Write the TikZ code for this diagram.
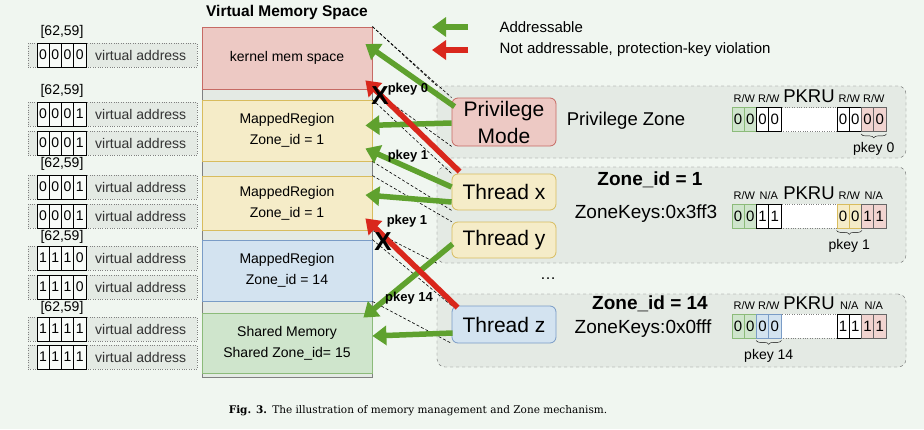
\documentclass[tikz,border=0pt]{standalone}
\usepackage{fontspec}
\setmainfont{Liberation Sans}
\newfontfamily\capfont{DejaVu Serif}
\usetikzlibrary{arrows.meta,calc,decorations.pathreplacing}
\definecolor{bgc}{HTML}{F0F6F0}
\definecolor{boxgray}{HTML}{E4EAE4}
\definecolor{pinkf}{HTML}{EDC9C4}
\definecolor{pinkd}{HTML}{C66A64}
\definecolor{yelf}{HTML}{F5ECC8}
\definecolor{yeld}{HTML}{D8BC5E}
\definecolor{bluef}{HTML}{D3E3F0}
\definecolor{blued}{HTML}{7A9CC6}
\definecolor{grnf}{HTML}{CFE5CC}
\definecolor{grnd}{HTML}{8CBB7A}
\definecolor{okgreen}{HTML}{5FA12E}
\definecolor{badred}{HTML}{D9271C}
\newcommand{\fs}[1]{\fontsize{#1}{#1}\selectfont}

\begin{document}
\begin{tikzpicture}[x=1pt,y=-1pt,
  addrbox/.style={draw=gray,dotted,fill=boxgray,minimum width=169pt,minimum height=24pt,inner sep=0pt},
  bitcell/.style={draw=black,fill=white!55!bgc,line width=0.8pt,minimum width=12.25pt,minimum height=24pt,inner sep=0pt,font=\fs{14}},
  memreg/.style={draw,line width=0.8pt,minimum width=170pt,inner sep=0pt,align=center,font=\fontsize{14}{21}\selectfont},
  zonebox/.style={draw=gray!80!black,dashed,rounded corners=8pt,fill=boxgray,minimum width=469pt,inner sep=0pt},
  thr/.style={draw,line width=0.8pt,rounded corners=6pt,minimum width=104pt,inner sep=0pt,align=center,font=\fontsize{21}{27}\selectfont},
  pcell/.style={line width=0.8pt,minimum width=12.25pt,minimum height=24pt,inner sep=0pt,font=\fs{15}},
  cg/.style={draw=grnd,fill=grnf},
  cw/.style={draw=black,fill=white},
  cp/.style={draw=gray!80!black,fill=pinkf!80!white},
  cy/.style={draw=yeld,fill=yelf},
  cb/.style={draw=blued,fill=bluef},
  gapbox/.style={draw=gray,dotted,fill=white,minimum width=56pt,minimum height=24pt,inner sep=0pt},
  conn/.style={dash pattern=on 3pt off 2pt,line width=0.6pt},
  okarrow/.style={draw=okgreen,line width=5.5pt,-{Triangle[length=14pt,width=19pt]}},
  badarrow/.style={draw=badred,line width=5.5pt,-{Triangle[length=14pt,width=19pt]}},
  klabel/.style={font=\bfseries\fs{13}},
  rwlabel/.style={anchor=base,inner sep=0pt,font=\fs{11}}]

\fill[bgc] (0,0) rectangle (924,429);
\useasboundingbox (0,0) rectangle (924,429);

% virtual addresses
\foreach \r/\yy/\bits in {1/55/{0,0,0,0},2/114/{0,0,0,1},3/143/{0,0,0,1},4/187/{0,0,0,1},5/216/{0,0,0,1},6/258/{1,1,1,0},7/287/{1,1,1,0},8/329/{1,1,1,1},9/357/{1,1,1,1}}{
  \node[addrbox] (addr\r) at (112.5,\yy) {};
  \node[anchor=west,inner sep=0pt,text=black!80,font=\fs{14}] (va\r) at (95,\yy) {virtual address};
  \foreach \b [count=\i] in \bits
    \node[bitcell] (bit\r-\i) at ({37+12.25*(\i-0.5)},\yy) {\b};
}
\foreach \r/\yy in {1/32,2/91,4/164,6/237,8/308}
  \node[font=\fs{14}] (rng\r) at (62,\yy) {[62,59]};

% virtual memory space
\node[font=\bfseries\fs{15.5}] (vmst) at (287,12) {Virtual Memory Space};
\node[draw=gray,fill=boxgray,minimum width=170pt,minimum height=350pt,inner sep=0pt] (vms) at (287,202) {};
\node[memreg,draw=pinkd,fill=pinkf,minimum height=62pt] (kern) at (287,58) {kernel mem space};
\node[memreg,draw=yeld,fill=yelf,minimum height=61pt] (r1a) at (287,130.5) {MappedRegion\\Zone\_id = 1};
\node[memreg,draw=yeld,fill=yelf,minimum height=54pt] (r1b) at (287,203) {MappedRegion\\Zone\_id = 1};
\node[memreg,draw=blued,fill=bluef,minimum height=61pt] (r14) at (287,270.5) {MappedRegion\\Zone\_id = 14};
\node[memreg,draw=grnd,fill=grnf,minimum height=60pt] (shm) at (287,343) {Shared Memory\\Shared Zone\_id= 15};

% zones
\node[zonebox,minimum height=72pt] (pzone) at (671.5,122) {};
\node[zonebox,minimum height=96pt] (zone1) at (671.5,215) {};
\node[zonebox,minimum height=73pt] (zone14) at (671.5,330.5) {};

\node[thr,draw=pinkd,fill=pinkf,minimum height=48pt] (priv) at (504,122) {Privilege\\Mode};
\node[thr,draw=yeld,fill=yelf,minimum height=36pt] (thx) at (504,192) {Thread x};
\node[thr,draw=yeld,fill=yelf,minimum height=36pt] (thy) at (504,240) {Thread y};
\node[thr,draw=blued,fill=bluef,minimum height=37pt] (thz) at (504,324.5) {Thread z};

\node[font=\fs{18.5}] (pzt) at (626,121) {Privilege Zone};
\node[font=\bfseries\fs{19}] (z1t) at (650,180) {Zone\_id = 1};
\node[font=\fs{19}] (z1k) at (646,214) {ZoneKeys:0x3ff3};
\node[font=\bfseries\fs{19}] (z14t) at (650,304) {Zone\_id = 14};
\node[font=\fs{19}] (z14k) at (643,329) {ZoneKeys:0x0fff};
\node[font=\fs{16}] (dots) at (548,279) {\dots};

% PKRU registers
\foreach \rn/\ry/\cells in {p/119.5/{cg/0,cg/0,cw/0,cw/0,cw/0,cw/0,cp/0,cp/0},a/216/{cg/0,cg/0,cw/1,cw/1,cy/0,cy/0,cp/1,cp/1},b/326/{cg/0,cg/0,cb/0,cb/0,cw/1,cw/1,cp/1,cp/1}}{
  \node[gapbox] (\rn-gap) at (809,\ry) {};
  \foreach \st/\v [count=\i] in \cells {
    \pgfmathsetmacro\cx{\i<5 ? 732+12.25*(\i-0.5) : 837+12.25*(\i-4.5)}
    \node[pcell,\st] (\rn-c\i) at (\cx,\ry) {\v};
  }
  \node[anchor=base,inner sep=0pt,font=\fs{18.5}] (\rn-pkru) at (809,\ry-17) {PKRU};
}
\foreach \rn/\ry/\la/\lb/\lc/\ld in {p/119.5/{R/W}/{R/W}/{R/W}/{R/W},a/216/{R/W}/{N/A}/{R/W}/{N/A},b/326/{R/W}/{R/W}/{N/A}/{N/A}}{
  \node[rwlabel] (\rn-la) at (744.25,\ry-17) {\la};
  \node[rwlabel] (\rn-lb) at (768.75,\ry-17) {\lb};
  \node[rwlabel] (\rn-lc) at (849.25,\ry-17) {\lc};
  \node[rwlabel] (\rn-ld) at (873.75,\ry-17) {\ld};
}
\draw[decorate,decoration={brace,mirror,amplitude=4pt}] ([yshift=-2pt]p-c7.south west) -- ([yshift=-2pt]p-c8.south east);
\draw[decorate,decoration={brace,mirror,amplitude=4pt}] ([yshift=-2pt]a-c5.south west) -- ([yshift=-2pt]a-c6.south east);
\draw[decorate,decoration={brace,mirror,amplitude=4pt}] ([yshift=-2pt]b-c3.south west) -- ([yshift=-2pt]b-c4.south east);
\node[font=\fs{14}] (pk0) at (873.75,149) {pkey 0};
\node[font=\fs{14}] (pk1) at (849.25,246) {pkey 1};
\node[font=\fs{14}] (pk14) at (768.75,356) {pkey 14};

% mapping lines
\draw[conn] (kern.north east) -- (priv.north west);
\draw[conn] (kern.north east) -- (pzone.north west);
\draw[conn] (kern.south east) -- (priv.south west);
\draw[conn] (r1a.north east) -- (thx.north west);
\draw[conn] (r1a.south east) -- (thx.south west);
\draw[conn] (r1b.north east) -- (thy.north west);
\draw[conn] (r1b.south east) -- (zone1.south west);
\draw[conn] (r14.north east) -- (thz.north west);
\draw[conn] (r14.south east) -- (thz.south west);

% legend
\coordinate (lga) at (468,27);
\coordinate (lgb) at (432,27);
\coordinate (lgc) at (468,50);
\coordinate (lgd) at (432,50);
\draw[okarrow] (lga) -- (lgb);
\draw[badarrow] (lgc) -- (lgd);
\node[anchor=west,font=\fs{15}] (lgt1) at (496,27) {Addressable};
\node[anchor=west,font=\fs{15}] (lgt2) at (496,50) {Not addressable, protection-key violation};

% accesses
\draw[okarrow] ($(priv.north west)+(3,9)$) -- ($(kern.east)+(-7,-14)$);
\draw[okarrow] ($(priv.west)+(0,1)$) -- ($(r1a.east)+(-7,-5)$);
\draw[okarrow] ($(thx.west)+(0,-5)$) -- ($(r1a.east)+(-7,18)$);
\draw[okarrow] ($(thx.west)+(0,10)$) -- ($(r1b.east)+(-7,-8)$);
\draw[okarrow] ($(thy.west)+(1,4)$) -- ($(shm.north east)+(-9,5)$);
\draw[okarrow] ($(thz.west)+(1,8.5)$) -- ($(shm.east)+(0,-7)$);
\draw[badarrow] ($(thx.north west)+(8,-2)$) -- ($(kern.south east)+(-7,-9)$);
\draw[badarrow] ($(thz.north west)+(6,2)$) -- ($(r1b.south east)+(-7,-12)$);

\node[font=\bfseries\fs{26}] (xa) at (380,96) {X};
\node[font=\bfseries\fs{26}] (xb) at (383,242) {X};
\node[klabel] (kl0) at (408,89) {pkey 0};
\node[klabel] (kl1) at (408,156) {pkey 1};
\node[klabel] (kl2) at (407,221) {pkey 1};
\node[klabel] (kl3) at (409,298) {pkey 14};

\node[font=\capfont\fs{10.5}] (cap) at (418,411) {\textbf{Fig. 3.}\enspace The illustration of memory management and Zone mechanism.};
\end{tikzpicture}
\end{document}
